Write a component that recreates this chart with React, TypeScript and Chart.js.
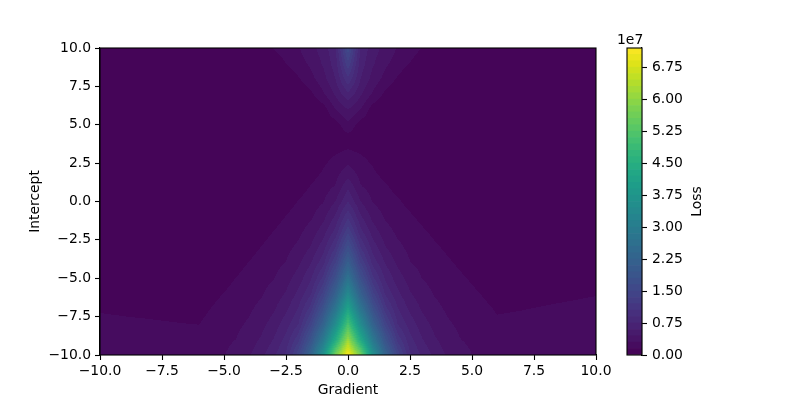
import React, { useEffect, useRef } from "react";
import { Chart, registerables } from "chart.js";

Chart.register(...registerables);

// Grid axes of the loss surface
const gradientValues = [-10, -9, -8, -7, -6, -5, -4.5, -4, -3.5, -3, -2.5, -2, -1.5, -1, -0.5, 0, 0.5, 1, 1.5, 2, 2.5, 3, 3.5, 4, 4.5, 5, 6, 7, 8, 9, 10];
const interceptValues = [10, 9, 8, 7, 6, 5, 4, 3, 2, 1, 0, -1, -2, -3, -4, -5, -6, -7, -8, -9, -10];

// Loss (in millions), one row per intercept value (top row = intercept 10)
const lossRows = [
  [0.3, 0.3, 0.3, 0.3, 0.3, 0.3, 0.3, 0.35, 0.93, 1.58, 2.2, 2.9, 4.0, 5.2, 7.3, 16, 7.3, 5.2, 4.0, 2.9, 2.2, 1.45, 0.8, 0.35, 0.3, 0.3, 0.3, 0.3, 0.3, 0.3, 0.3],
  [0.3, 0.3, 0.3, 0.3, 0.3, 0.3, 0.3, 0.3, 0.3, 0.64, 1.5, 2.36, 3.3, 4.7, 6.8, 13.2, 6.8, 4.7, 3.3, 2.36, 1.45, 0.6, 0.3, 0.3, 0.3, 0.3, 0.3, 0.3, 0.3, 0.3, 0.3],
  [0.3, 0.3, 0.3, 0.3, 0.3, 0.3, 0.3, 0.3, 0.3, 0.3, 0.3, 1.36, 2.52, 3.95, 6.05, 10.2, 6.05, 3.95, 2.52, 1.33, 0.3, 0.3, 0.3, 0.3, 0.3, 0.3, 0.3, 0.3, 0.3, 0.3, 0.3],
  [0.3, 0.3, 0.3, 0.3, 0.3, 0.3, 0.3, 0.3, 0.3, 0.3, 0.3, 0.3, 1.14, 2.77, 4.77, 7.2, 4.77, 2.77, 1.14, 0.3, 0.3, 0.3, 0.3, 0.3, 0.3, 0.3, 0.3, 0.3, 0.3, 0.3, 0.3],
  [0.3, 0.3, 0.3, 0.3, 0.3, 0.3, 0.3, 0.3, 0.3, 0.3, 0.3, 0.3, 0.3, 0.74, 3.0, 4.5, 3.0, 0.74, 0.3, 0.3, 0.3, 0.3, 0.3, 0.3, 0.3, 0.3, 0.3, 0.3, 0.3, 0.3, 0.3],
  [0.35, 0.35, 0.35, 0.35, 0.35, 0.35, 0.35, 0.35, 0.35, 0.35, 0.35, 0.35, 0.35, 0.4, 0.8, 2.6, 0.8, 0.4, 0.35, 0.35, 0.35, 0.35, 0.35, 0.35, 0.35, 0.35, 0.35, 0.35, 0.35, 0.35, 0.35],
  [0.4, 0.4, 0.4, 0.4, 0.4, 0.4, 0.4, 0.4, 0.4, 0.4, 0.4, 0.4, 0.4, 0.4, 0.5, 0.6, 0.5, 0.4, 0.4, 0.4, 0.4, 0.4, 0.4, 0.4, 0.4, 0.4, 0.4, 0.4, 0.4, 0.4, 0.4],
  [0.4, 0.4, 0.4, 0.4, 0.4, 0.4, 0.4, 0.4, 0.4, 0.4, 0.4, 0.4, 0.5, 1.0, 1.54, 2.1, 1.58, 1.04, 0.5, 0.4, 0.4, 0.4, 0.4, 0.4, 0.4, 0.4, 0.4, 0.4, 0.4, 0.4, 0.4],
  [0.4, 0.4, 0.4, 0.4, 0.4, 0.4, 0.4, 0.4, 0.4, 0.4, 0.4, 0.4, 0.75, 1.57, 2.38, 3.56, 2.4, 1.66, 0.85, 0.4, 0.4, 0.4, 0.4, 0.4, 0.4, 0.4, 0.4, 0.4, 0.4, 0.4, 0.4],
  [0.4, 0.4, 0.4, 0.4, 0.4, 0.4, 0.4, 0.4, 0.4, 0.4, 0.4, 0.82, 1.56, 2.29, 3.09, 5.57, 3.1, 2.32, 1.69, 0.96, 0.4, 0.4, 0.4, 0.4, 0.4, 0.4, 0.4, 0.4, 0.4, 0.4, 0.4],
  [0.4, 0.4, 0.4, 0.4, 0.4, 0.4, 0.4, 0.4, 0.4, 0.4, 0.88, 1.55, 2.22, 2.89, 4.56, 7.5, 4.56, 2.9, 2.28, 1.71, 1.04, 0.4, 0.4, 0.4, 0.4, 0.4, 0.4, 0.4, 0.4, 0.4, 0.4],
  [0.4, 0.4, 0.4, 0.4, 0.4, 0.4, 0.4, 0.4, 0.4, 0.93, 1.55, 2.16, 2.78, 4.02, 6.3, 10.2, 6.3, 4.02, 2.8, 2.2, 1.72, 1.11, 0.5, 0.4, 0.4, 0.4, 0.4, 0.4, 0.4, 0.4, 0.4],
  [0.45, 0.45, 0.45, 0.45, 0.45, 0.4, 0.4, 0.41, 0.98, 1.55, 2.12, 2.68, 3.62, 5.36, 8.1, 13.3, 8.1, 5.36, 3.62, 2.72, 2.31, 1.74, 1.21, 0.6, 0.4, 0.4, 0.45, 0.45, 0.45, 0.45, 0.45],
  [0.5, 0.5, 0.5, 0.5, 0.5, 0.4, 0.48, 1.01, 1.54, 2.07, 2.6, 3.3, 4.63, 6.85, 10.6, 17.1, 10.6, 6.85, 4.63, 3.35, 2.65, 2.19, 1.72, 1.26, 0.79, 0.4, 0.5, 0.5, 0.5, 0.55, 0.6],
  [0.55, 0.49, 0.44, 0.38, 0.4, 0.55, 1.04, 1.54, 2.03, 2.53, 3.05, 4.18, 5.92, 8.5, 13.6, 21.5, 13.6, 8.5, 5.92, 4.18, 3.05, 2.59, 2.16, 1.72, 1.29, 0.86, 0.45, 0.57, 0.67, 0.76, 0.85],
  [0.84, 0.78, 0.73, 0.67, 0.5, 1.07, 1.54, 2.0, 2.46, 2.93, 3.88, 5.21, 7.27, 10.9, 17.5, 26.9, 17.5, 10.9, 7.27, 5.21, 3.88, 2.95, 2.53, 2.13, 1.73, 1.33, 0.6, 0.87, 0.97, 1.06, 1.16],
  [1.13, 1.07, 1.02, 0.96, 0.8, 1.53, 1.97, 2.41, 2.84, 3.62, 4.63, 6.39, 8.79, 14.0, 22.0, 33.75, 22.0, 14.0, 8.79, 6.39, 4.63, 3.62, 2.87, 2.49, 2.12, 1.74, 1.0, 1.17, 1.27, 1.36, 1.45],
  [1.42, 1.36, 1.31, 1.25, 1.15, 1.94, 2.36, 2.77, 3.39, 4.29, 5.69, 7.65, 11.2, 17.9, 27.75, 41.7, 27.75, 17.9, 11.2, 7.65, 5.69, 4.29, 3.39, 2.8, 2.45, 2.1, 1.39, 1.47, 1.57, 1.66, 1.76],
  [1.72, 1.65, 1.6, 1.54, 1.49, 2.31, 2.7, 3.2, 4.03, 5.15, 6.81, 9.0, 14.35, 22.5, 34.9, 51, 34.9, 22.5, 14.35, 9.0, 6.81, 5.15, 4.03, 3.2, 2.75, 2.41, 1.68, 1.77, 1.87, 1.96, 2.05],
  [2.0, 1.95, 1.9, 1.88, 2.0, 2.64, 3.03, 3.81, 4.67, 6.07, 7.99, 11.5, 18.3, 28.6, 43.7, 61, 43.7, 28.6, 18.3, 11.5, 7.99, 6.07, 4.67, 3.81, 3.05, 2.7, 2.15, 2.1, 2.18, 2.26, 2.35],
  [2.3, 2.25, 2.2, 2.25, 2.5, 2.95, 3.62, 4.3, 5.53, 7.2, 9.2, 14.6, 23, 36, 57, 72, 57, 36, 23, 14.6, 9.2, 7.2, 5.53, 4.3, 3.65, 3.0, 2.6, 2.45, 2.5, 2.55, 2.65],
];

const axisTicks = [-10, -7.5, -5, -2.5, 0, 2.5, 5, 7.5, 10];
const colorbarTicks = [0, 0.75, 1.5, 2.25, 3, 3.75, 4.5, 5.25, 6, 6.75]; // × 1e7
const levelStepMillions = 1.5;
const levelTopMillions = 72;

const viridisAnchors = [
  [68, 1, 84], [71, 19, 101], [72, 36, 117], [70, 52, 128], [65, 68, 135], [59, 82, 139],
  [53, 95, 141], [47, 108, 142], [42, 120, 142], [37, 132, 142], [33, 145, 140], [30, 156, 137],
  [34, 168, 132], [47, 180, 124], [68, 191, 112], [94, 201, 98], [122, 209, 81], [155, 217, 60],
  [189, 223, 38], [223, 227, 24], [253, 231, 37],
];

function viridis(t: number): number[] {
  const x = Math.max(0, Math.min(1, t)) * (viridisAnchors.length - 1);
  const i = Math.min(viridisAnchors.length - 2, Math.floor(x));
  const f = x - i;
  const a = viridisAnchors[i], b = viridisAnchors[i + 1];
  return [0, 1, 2].map((k) => Math.round(a[k] + (b[k] - a[k]) * f));
}

const bandCount = Math.round(levelTopMillions / levelStepMillions);
const bandRGB = Array.from({ length: bandCount }, (_, i) => viridis((i + 0.5) / bandCount));
const bandCss = bandRGB.map((c) => `rgb(${c[0]},${c[1]},${c[2]})`);

function locate(arr: number[], v: number): [number, number] {
  for (let i = 0; i < arr.length - 1; i++) {
    const a = arr[i], b = arr[i + 1];
    if (v >= Math.min(a, b) && v <= Math.max(a, b)) return [i, (v - a) / (b - a)];
  }
  const asc = arr[arr.length - 1] > arr[0];
  if ((v < arr[0]) === asc) return [0, 0];
  return [arr.length - 2, 1];
}

const FONT = { family: "'DejaVu Sans', sans-serif", size: 13.9 };
const fmt = (v: number) => v.toFixed(1).replace("-", "\u2212");

const contourPlugin = {
  id: "contourFill",
  beforeDatasetsDraw(chart: any) {
    const { ctx, chartArea, scales } = chart;
    const w = Math.round(chartArea.right - chartArea.left);
    const h = Math.round(chartArea.bottom - chartArea.top);
    const off = document.createElement("canvas");
    off.width = w;
    off.height = h;
    const octx = off.getContext("2d")!;
    const img = octx.createImageData(w, h);
    const cols = [];
    for (let px = 0; px < w; px++) cols.push(locate(gradientValues, scales.x.getValueForPixel(chartArea.left + px + 0.5)));
    const rows = [];
    for (let py = 0; py < h; py++) rows.push(locate(interceptValues, scales.y.getValueForPixel(chartArea.top + py + 0.5)));
    for (let py = 0; py < h; py++) {
      const [r, tr] = rows[py];
      const R0 = lossRows[r], R1 = lossRows[r + 1];
      for (let px = 0; px < w; px++) {
        const [c, tc] = cols[px];
        const top = R0[c] * (1 - tc) + R0[c + 1] * tc;
        const bot = R1[c] * (1 - tc) + R1[c + 1] * tc;
        const v = top * (1 - tr) + bot * tr;
        const band = Math.max(0, Math.min(bandCount - 1, Math.floor(v / levelStepMillions)));
        const col = bandRGB[band];
        const idx = (py * w + px) * 4;
        img.data[idx] = col[0];
        img.data[idx + 1] = col[1];
        img.data[idx + 2] = col[2];
        img.data[idx + 3] = 255;
      }
    }
    octx.putImageData(img, 0, 0);
    ctx.drawImage(off, chartArea.left, chartArea.top, w, h);
  },
};

const framePlugin = {
  id: "frame",
  afterDraw(chart: any) {
    const { ctx, chartArea } = chart;
    ctx.save();
    ctx.strokeStyle = "#000";
    ctx.lineWidth = 1.1;
    ctx.strokeRect(chartArea.left, chartArea.top, chartArea.right - chartArea.left, chartArea.bottom - chartArea.top);
    ctx.restore();
  },
};

const colorbarTextPlugin = {
  id: "cbText",
  afterDraw(chart: any) {
    const { ctx, chartArea } = chart;
    ctx.save();
    ctx.fillStyle = "#000";
    ctx.font = `${FONT.size}px ${FONT.family}`;
    ctx.textAlign = "left";
    ctx.textBaseline = "alphabetic";
    ctx.fillText("1e7", 617, 44);
    ctx.translate(697, (chartArea.top + chartArea.bottom) / 2);
    ctx.rotate(-Math.PI / 2);
    ctx.textAlign = "center";
    ctx.textBaseline = "middle";
    ctx.fillText("Loss", 0, 0);
    ctx.restore();
    ctx.save();
    ctx.strokeStyle = "#000";
    ctx.lineWidth = 1.1;
    ctx.strokeRect(chartArea.left, chartArea.top, chartArea.right - chartArea.left, chartArea.bottom - chartArea.top);
    ctx.restore();
  },
};

export default function App() {
  const mainRef = useRef<HTMLCanvasElement>(null);
  const cbRef = useRef<HTMLCanvasElement>(null);

  useEffect(() => {
    const axisCommon = {
      type: "linear" as const,
      min: -10,
      max: 10,
      grid: { drawOnChartArea: false, drawTicks: true, tickLength: 5, tickColor: "#000", tickWidth: 1.1 },
      border: { display: true, color: "#000", width: 1.1 },
    };
    const main = new Chart(mainRef.current!, {
      type: "scatter",
      data: { datasets: [{ data: [] }] },
      options: {
        responsive: false,
        animation: false,
        events: [],
        layout: { padding: { left: 0, top: 48, right: 204, bottom: 0 } },
        plugins: { legend: { display: false }, tooltip: { enabled: false } },
        scales: {
          x: {
            ...axisCommon,
            afterBuildTicks: (s: any) => { s.ticks = axisTicks.map((v) => ({ value: v })); },
            afterFit: (s: any) => { s.height = 45; },
            ticks: { callback: (v: any) => fmt(Number(v)), maxRotation: 0, autoSkip: false, padding: 3, color: "#000", font: FONT },
            title: { display: true, text: "Gradient", color: "#000", font: FONT, padding: { top: 0, bottom: 1 } },
          },
          y: {
            ...axisCommon,
            afterBuildTicks: (s: any) => { s.ticks = axisTicks.map((v) => ({ value: v })); },
            afterFit: (s: any) => { s.width = 100; },
            ticks: { callback: (v: any) => fmt(Number(v)), autoSkip: false, padding: 4, color: "#000", font: FONT },
            title: { display: true, text: "Intercept", color: "#000", font: FONT, padding: { top: 27, bottom: 0 } },
          },
        },
      },
      plugins: [contourPlugin, framePlugin],
    });

    const cb = new Chart(cbRef.current!, {
      type: "bar",
      data: {
        labels: [""],
        datasets: bandCss.map((c) => ({
          data: [levelStepMillions * 1e6],
          backgroundColor: c,
          borderWidth: 0,
          barPercentage: 1,
          categoryPercentage: 1,
          stack: "cb",
        })),
      },
      options: {
        responsive: false,
        animation: false,
        events: [],
        layout: { padding: { left: 627, top: 48, right: 0, bottom: 45 } },
        plugins: { legend: { display: false }, tooltip: { enabled: false } },
        scales: {
          x: { display: false, stacked: true },
          y: {
            stacked: true,
            position: "right",
            min: 0,
            max: levelTopMillions * 1e6,
            afterBuildTicks: (s: any) => { s.ticks = colorbarTicks.map((v) => ({ value: v * 1e7 })); },
            afterFit: (s: any) => { s.width = 158; },
            ticks: { callback: (v: any) => (Number(v) / 1e7).toFixed(2), autoSkip: false, padding: 5, color: "#000", font: FONT },
            grid: { drawOnChartArea: false, drawTicks: true, tickLength: 5, tickColor: "#000", tickWidth: 1.1 },
            border: { display: true, color: "#000", width: 1.1 },
          },
        },
      },
      plugins: [colorbarTextPlugin],
    });

    return () => {
      main.destroy();
      cb.destroy();
    };
  }, []);

  return (
    <div style={{ position: "fixed", left: 0, top: 0, width: 800, height: 400, background: "#fff" }}>
      <canvas ref={mainRef} width={800} height={400} style={{ position: "absolute", left: 0, top: 0 }} />
      <canvas ref={cbRef} width={800} height={400} style={{ position: "absolute", left: 0, top: 0 }} />
    </div>
  );
}
